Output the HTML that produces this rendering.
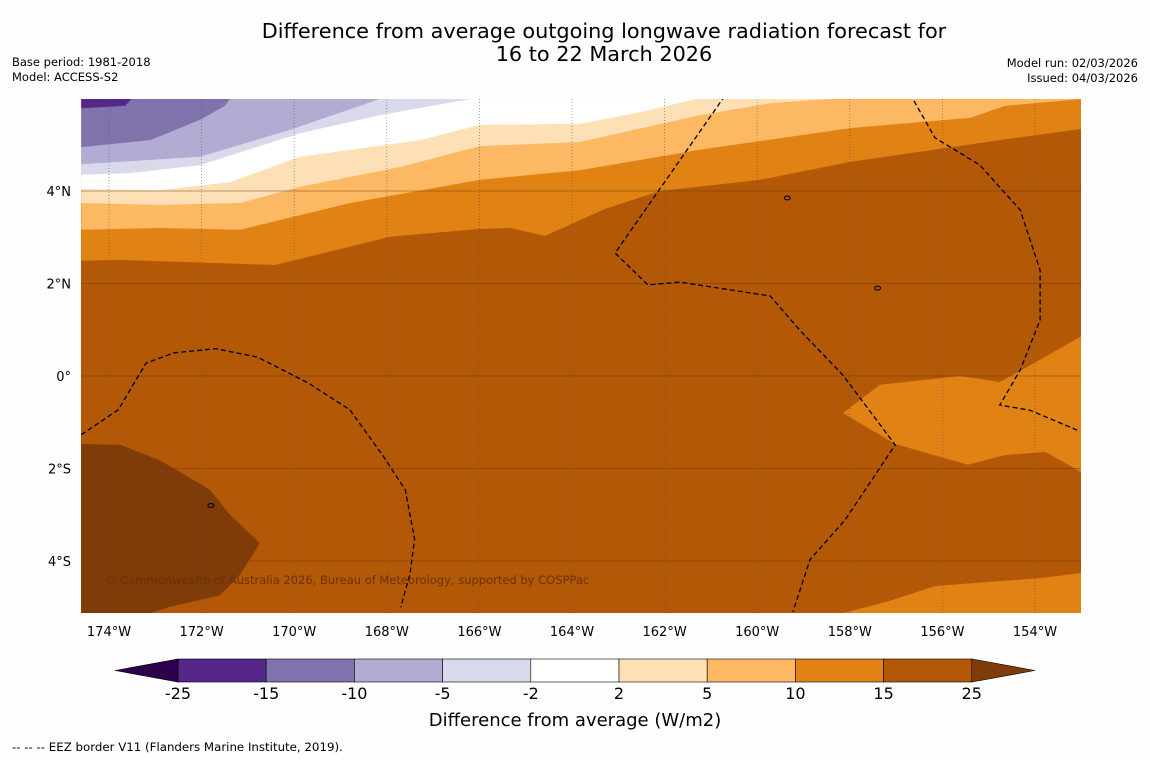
<!DOCTYPE html>
<html><head><meta charset="utf-8"><style>
body{margin:0;background:#fff;font-family:"Liberation Sans","DejaVu Sans",sans-serif}
svg text{font-family:"DejaVu Sans","Liberation Sans",sans-serif}
</style></head><body>
<svg id="c" width="1150" height="758" viewBox="0 0 1150 758" xmlns="http://www.w3.org/2000/svg">
<rect width="1150" height="758" fill="#fefefe"/>
<text x="604" y="38" font-size="20.8" text-anchor="middle">Difference from average outgoing longwave radiation forecast for</text>
<text x="604" y="61" font-size="20.8" text-anchor="middle">16 to 22 March 2026</text>
<text x="12" y="66" font-size="11.5">Base period: 1981-2018</text>
<text x="12" y="81" font-size="11.5">Model: ACCESS-S2</text>
<text x="1138" y="67" font-size="11.5" text-anchor="end">Model run: 02/03/2026</text>
<text x="1138" y="82" font-size="11.5" text-anchor="end">Issued: 04/03/2026</text>
<defs><clipPath id="mc"><rect x="81" y="99" width="1000" height="514"/></clipPath></defs>
<g id="map" clip-path="url(#mc)"></g>
<g id="axes"></g>
<g id="cbar"></g>
<text x="575" y="726" font-size="18" text-anchor="middle">Difference from average (W/m2)</text>
<text x="12" y="751" font-size="11.8">--  --  -- EEZ border V11 (Flanders Marine Institute, 2019).</text>
</svg>
<script>
// ---- data ----
const levels = [-25,-15,-10,-5,-2,2,5,10,15,25];
const bandColors = ["#2d004b","#542788","#8073ac","#b2abd2","#d8daeb","#ffffff","#fee0b6","#fdb863","#e08214","#b35806","#7f3b08"];
const lonTicks = [-174,-172,-170,-168,-166,-164,-162,-160,-158,-156,-154];
const latTicks = [4,2,0,-2,-4];
// contour boundaries [lon,lat]; region ABOVE each line takes the lower band colour
const c15 = [[-174.6,2.49],[-173.76,2.51],[-170.41,2.4],[-167.93,3.01],[-165.99,3.18],[-165.34,3.2],[-164.58,3.03],[-163.29,3.61],[-162.1,4.0],[-159.94,4.24],[-157.99,4.63],[-154.76,5.1],[-153.0,5.34]];
const c10 = [[-174.6,3.16],[-172.9,3.2],[-171.17,3.16],[-168.79,3.74],[-165.99,4.24],[-163.83,4.45],[-161.24,4.89],[-157.99,5.36],[-155.4,5.58],[-154.65,5.84],[-153.0,5.99]];
const c5 = [[-174.6,3.74],[-172.9,3.7],[-171.17,3.74],[-169.87,4.09],[-167.71,4.52],[-165.99,4.97],[-163.83,5.06],[-161.24,5.64],[-159.72,5.9],[-158.43,5.99]];
const c2 = [[-174.6,4.04],[-172.9,4.02],[-171.39,4.19],[-169.87,4.74],[-167.28,5.1],[-165.99,5.43],[-163.83,5.45],[-162.32,5.75],[-161.34,5.99]];
const cm2 = [[-174.6,4.35],[-173.52,4.39],[-172.03,4.56],[-169.87,5.25],[-168.15,5.64],[-166.2,5.99]];
const cm5 = [[-174.6,4.58],[-172.03,4.74],[-170.09,5.32],[-168.15,5.99]];
const cm10 = [[-174.6,4.95],[-173.11,5.1],[-172.03,5.54],[-171.5,5.84],[-171.39,5.99]];
const cm15 = [[-174.6,5.79],[-173.65,5.84],[-173.52,5.99]];
const lobeEast = [[-153.0,0.86],[-153.89,0.35],[-154.76,-0.13],[-155.62,0],[-157.35,-0.19],[-158.15,-0.8],[-157.02,-1.47],[-155.45,-1.92],[-154.65,-1.71],[-153.78,-1.64],[-153.0,-2.08]];
const lobeSouth = [[-153.0,-4.26],[-153.89,-4.37],[-156.16,-4.54],[-157.13,-4.86],[-158.43,-5.2],[-153.0,-5.2]];
const darkWest = [[-174.6,-1.47],[-173.76,-1.49],[-172.9,-1.82],[-171.82,-2.46],[-171.39,-3.0],[-170.74,-3.61],[-171.17,-4.3],[-171.6,-4.74],[-172.68,-4.99],[-173.33,-5.2],[-174.6,-5.2]];
const eez1 = [[-160.6,6.2],[-163.07,2.66],[-162.36,1.97],[-161.67,2.03],[-159.72,1.73],[-159.08,0.99],[-158.15,0.02],[-157.02,-1.49],[-158.1,-3.11],[-158.86,-3.97],[-159.23,-5.1]];
const eez2 = [[-156.7,6.1],[-156.16,5.15],[-155.19,4.56],[-154.32,3.59],[-153.89,2.29],[-153.89,1.21],[-154.32,0.13],[-154.76,-0.63],[-154.11,-0.74],[-153.09,-1.17]];
const eez3 = [[-174.6,-1.27],[-173.8,-0.73],[-173.2,0.28],[-172.6,0.5],[-171.7,0.59],[-170.8,0.41],[-169.7,-0.15],[-168.8,-0.73],[-168.1,-1.7],[-167.6,-2.46],[-167.4,-3.53],[-167.5,-4.29],[-167.7,-5.0]];
// ---- axes ----
const X0=81,X1=1081,Y0=99,Y1=613;
const xs = lon => 109 + (lon+174)*46.3;
const ys = lat => 376 - lat*46.25;
const NS="http://www.w3.org/2000/svg";
function mk(tag, attrs, parent){const e=document.createElementNS(NS,tag);for(const k in attrs)e.setAttribute(k,attrs[k]);parent.appendChild(e);return e;}
const map=document.getElementById('map'), axes=document.getElementById('axes'), cbar=document.getElementById('cbar');
const pts = arr => arr.map(p=>xs(p[0]).toFixed(1)+','+ys(p[1]).toFixed(1)).join(' ');
let bg = mk('rect',{x:X0,y:Y0,width:1000,height:514,fill:bandColors[9]},map);


const upper = [[c15,8,'band-10-15'],[c10,7,'band-5-10'],[c5,6,'band-2-5'],[c2,5,'band-neutral'],[cm2,4,'band-minus5-minus2'],[cm5,3,'band-minus10-minus5'],[cm10,2,'band-minus15-minus10'],[cm15,1,'band-minus25-minus15']];
upper.forEach(([line,ci,name])=>{
  const first=line[0], last=line[line.length-1];
  const poly = pts(line)+' '+xs(last[0])+','+(Y0-5)+' '+xs(first[0])+','+(Y0-5);
  const p=mk('polygon',{points:poly,fill:bandColors[ci]},map);
  
  
});
[[lobeEast,8,'band-10-15-east'],[lobeSouth,8,'band-10-15-south'],[darkWest,10,'band-above-25-west']].forEach(([line,ci,name])=>{
  const p=mk('polygon',{points:pts(line),fill:bandColors[ci]},map);
  
  
});
// gridlines
lonTicks.forEach(l=>{
  const g=mk('line',{x1:xs(l),x2:xs(l),y1:Y0,y2:Y1,stroke:'#555',"stroke-width":0.8,"stroke-dasharray":"1,2",opacity:0.7},map);
  
  
  const t=mk('text',{x:xs(l),y:636,"font-size":13,"text-anchor":"middle"},axes);
  t.textContent=Math.abs(l)+'°W';
  
  
});
latTicks.forEach(l=>{
  const g=mk('line',{x1:X0,x2:X1,y1:ys(l),y2:ys(l),stroke:'#6a3a10',"stroke-width":0.8,opacity:0.6},map);
  
  
  const t=mk('text',{x:71,y:ys(l)+5,"font-size":13,"text-anchor":"end"},axes);
  t.textContent= l===0?'0°':(Math.abs(l)+'°'+(l>0?'N':'S'));
  
  
});
[eez1,eez2,eez3].forEach(line=>{
  const p=mk('polyline',{points:pts(line),fill:'none',stroke:'#000',"stroke-width":1.3,"stroke-dasharray":"5,3"},map);
  
  
});
[[-159.35,3.85],[-157.4,1.9],[-171.8,-2.8]].forEach(p=>{
  const e=mk('ellipse',{cx:xs(p[0]),cy:ys(p[1]),rx:3,ry:2,fill:'none',stroke:'#000',"stroke-width":1},map);
  
  
});
const cr=mk('text',{x:105,y:584,"font-size":11.5,fill:'#6b3206'},map);
cr.textContent='© Commonwealth of Australia 2026, Bureau of Meteorology, supported by COSPPac';


// colorbar
const CB0=178, CBW=88.2, CBy=659, CBh=23;
for(let i=0;i<levels.length-1;i++){
  const r=mk('rect',{x:CB0+i*CBW,y:CBy,width:CBW,height:CBh,fill:bandColors[i+1],stroke:'#000',"stroke-width":0.6},cbar);
  
  
}
const tl=mk('polygon',{points:`${CB0},${CBy} ${CB0},${CBy+CBh} 115,${CBy+CBh/2}`,fill:bandColors[0],stroke:'#000',"stroke-width":0.6},cbar);


const xe=CB0+9*CBW;
const tr=mk('polygon',{points:`${xe},${CBy} ${xe},${CBy+CBh} 1035,${CBy+CBh/2}`,fill:bandColors[10],stroke:'#000',"stroke-width":0.6},cbar);


levels.forEach((v,i)=>{
  const t=mk('text',{x:CB0+i*CBW,y:699,"font-size":16,"text-anchor":"middle"},cbar);
  t.textContent=v;
  
  
});
</script>
</body></html>
